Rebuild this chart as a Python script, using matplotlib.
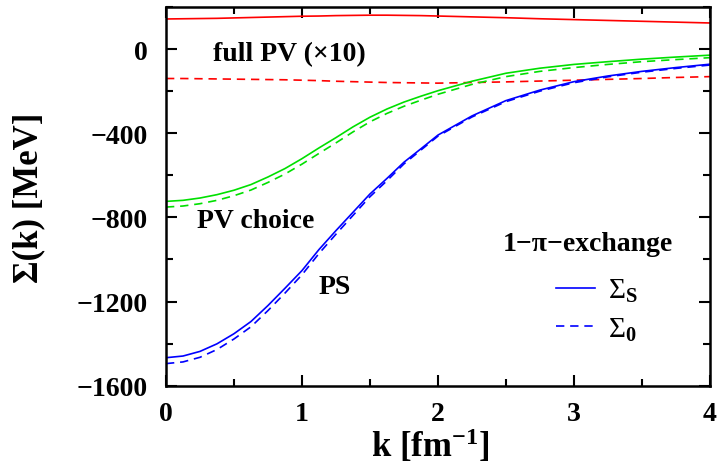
import numpy as np
import matplotlib
matplotlib.use("Agg")
import matplotlib.pyplot as plt
from matplotlib.lines import Line2D

plt.rcParams['font.family'] = ['Liberation Serif', 'DejaVu Serif']
plt.rcParams['font.weight'] = 'bold'
plt.rcParams['mathtext.fontset'] = 'custom'
plt.rcParams['mathtext.rm'] = 'Liberation Serif:bold'
plt.rcParams['mathtext.bf'] = 'Liberation Serif:bold'
plt.rcParams['mathtext.it'] = 'Liberation Serif:bold'

# k grid [fm^-1]
k = [0.0, 0.125, 0.25, 0.375, 0.5, 0.625, 0.75, 0.875, 1.0,
     1.125, 1.25, 1.375, 1.5, 1.625, 1.75, 1.875, 2.0,
     2.25, 2.5, 2.75, 3.0, 3.25, 3.5, 3.75, 4.0]

# PS coupling (blue)
ps_s = [-1467, -1459, -1437, -1401, -1353, -1295, -1219, -1137, -1053,
        -953, -863, -776, -689, -615, -538, -474, -409,
        -318, -245, -195, -155, -128, -106, -88, -72]
ps_0 = [-1495, -1487, -1465, -1428, -1378, -1320, -1243, -1160, -1073,
        -972, -880, -791, -702, -626, -546, -480, -414,
        -323, -250, -200, -160, -132, -110, -92, -76]

# PV choice (green)
pvc_s = [-724, -719, -708, -692, -671, -644, -608, -568, -521,
         -470, -421, -370, -324, -285, -252, -224, -198,
         -153, -115, -91, -73, -60, -48, -38, -29]
pvc_0 = [-751, -746, -735, -719, -697, -670, -634, -594, -547,
         -496, -446, -394, -346, -306, -272, -243, -215,
         -168, -131, -106, -88, -73, -60, -50, -41]

# full PV (x10) (red)
fpv_s = [143, 144, 145, 146, 148, 150, 152, 154, 156,
         157, 159, 160, 161, 161, 160, 159, 157,
         153, 149, 144, 140, 136, 132, 128, 124]
fpv_0 = [-140, -140, -141, -142, -143, -144, -145, -146, -148,
         -150, -153, -155, -157, -159, -160, -161, -162,
         -159, -156, -152, -148, -144, -140, -135, -131]

fig = plt.figure(figsize=(7.17, 4.64), dpi=100)
ax = fig.add_axes([0.2315, 0.1666, 0.7585, 0.8162])

lw = 1.2
dash = (0, (5, 3.5))
ax.plot(k, fpv_s, color='#ff0000', lw=lw)
ax.plot(k, fpv_0, color='#ff0000', lw=lw, linestyle=dash)
ax.plot(k, pvc_s, color='#00e000', lw=lw)
ax.plot(k, pvc_0, color='#00e000', lw=lw, linestyle=dash)
ax.plot(k, ps_s, color='#0000ff', lw=lw)
ax.plot(k, ps_0, color='#0000ff', lw=lw, linestyle=dash)

ax.set_xlim(0, 4)
ax.set_ylim(-1600, 200)
ax.set_xticks([0, 1, 2, 3, 4])
ax.set_xticks(np.arange(0, 4.01, 0.5), minor=True)
ax.set_yticks([-1600, -1200, -800, -400, 0])
ax.set_yticks(np.arange(-1600, 201, 200), minor=True)
ax.set_yticklabels(['−1600', '−1200', '−800', '−400', '0'])
ax.tick_params(which='both', direction='in', top=True, right=True,
               labelsize=20, width=1.5)
ax.tick_params(axis='x', which='major', pad=11)
ax.tick_params(axis='y', which='major', pad=13)
ax.tick_params(which='major', length=8)
ax.tick_params(which='minor', length=5)
for s in ax.spines.values():
    s.set_linewidth(1.8)

ax.set_xlabel(r'k [fm$^{-1}$]', fontsize=25, fontweight='bold')
ax.set_ylabel('Σ(k) [MeV]', fontsize=25, fontweight='bold')
ax.xaxis.set_label_coords(0.485, -0.106)
ax.yaxis.set_label_coords(-0.222, 0.5)

ax.text(0.91, -20, 'full PV (×10)', fontsize=20, ha='center', va='center')
ax.text(0.23, -815, 'PV choice', fontsize=20, ha='left', va='center')
ax.text(1.12, -1130, 'PS', fontsize=20, ha='left', va='center')
ax.text(2.48, -926, '1−π−exchange', fontsize=20, ha='left', va='center')

handles = [Line2D([], [], color='#0000ff', lw=lw),
           Line2D([], [], color='#0000ff', lw=lw, linestyle=dash)]
labels = [r'Σ$_\mathrm{S}$', r'Σ$_0$']
ax.legend(handles, labels, loc='center left', bbox_to_anchor=(0.668, 0.2),
          frameon=False, prop={'size': 21, 'weight': 'normal'},
          handlelength=1.35, handletextpad=0.45, labelspacing=0.38)

fig.savefig('out.png', dpi=100)
